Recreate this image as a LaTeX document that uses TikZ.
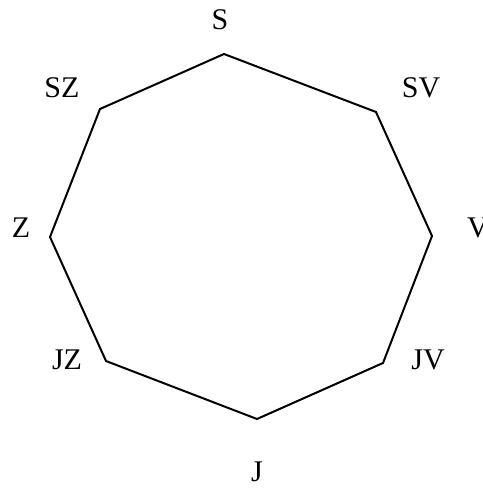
\documentclass[tikz,border=0pt]{standalone}
\usepackage{fontspec}
\setmainfont{Liberation Serif}
\begin{document}
\begin{tikzpicture}[x=1pt,y=-1pt,
  lbl/.style={font=\fontsize{30}{32}\selectfont, inner sep=0pt, anchor=base},
  edge/.style={line width=2pt, line join=miter}]
\useasboundingbox (0,0) rectangle (482,492);
\coordinate (vS) at (224,54);
\coordinate (vSV) at (376,112);
\coordinate (vV) at (432,236);
\coordinate (vJV) at (383,363);
\coordinate (vJ) at (257,419);
\coordinate (vJZ) at (106,361);
\coordinate (vZ) at (50,237);
\coordinate (vSZ) at (100,109);
\draw[edge] (vS) -- (vSV) -- (vV) -- (vJV) -- (vJ) -- (vJZ) -- (vZ) -- (vSZ) -- cycle;
\node[lbl] (lS) at (220,30) {S};
\node[lbl] (lSV) at (421,98) {SV};
\node[lbl] (lV) at (478,237) {V};
\node[lbl] (lJV) at (428,369) {JV};
\node[lbl] (lJ) at (257,481) {J};
\node[lbl] (lJZ) at (67,369) {JZ};
\node[lbl] (lZ) at (21,237) {Z};
\node[lbl] (lSZ) at (62,98) {SZ};
\end{tikzpicture}
\end{document}
